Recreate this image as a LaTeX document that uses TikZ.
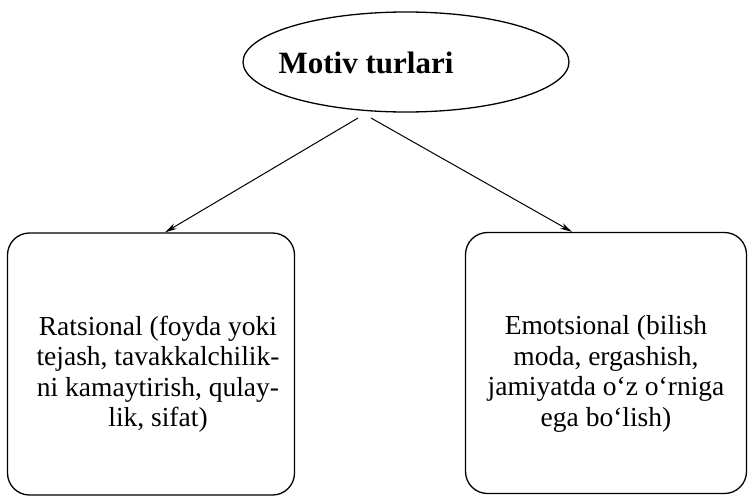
\documentclass[tikz,border=0pt]{standalone}
\usepackage{fontspec}
\setmainfont{Liberation Serif}
\usetikzlibrary{shapes.geometric,arrows.meta,calc}
\begin{document}
\begin{tikzpicture}[x=1pt,y=1pt,
  title/.style={draw,ellipse,line width=1.3pt,minimum width=326pt,minimum height=100pt,inner sep=0pt},
  titletext/.style={font=\fontsize{31}{34}\selectfont\bfseries,inner sep=0pt},
  box/.style={draw,rounded corners=22pt,line width=1.3pt,inner sep=0pt},
  boxtext/.style={align=center,inner sep=0pt,font=\fontsize{27.5}{30.5}\selectfont},
  arr/.style={line width=1pt,-{Stealth[length=12pt,width=6pt]}}]
\useasboundingbox (0,0) rectangle (748,-496);
\node[title] (m) at (406,-62) {};
\node[titletext] (mt) at (366,-63) {Motiv turlari};
\node[box,minimum width=287pt,minimum height=262pt] (r) at (151,-364) {};
\node[boxtext] (rt) at (158,-374) {Ratsional (foyda yoki\\tejash, tavakkalchilik-\\ni kamaytirish, qulay-\\lik, sifat)};
\node[box,minimum width=281pt,minimum height=261pt] (e) at (606,-363) {};
\node[boxtext] (et) at (606,-374) {Emotsional (bilish\\moda, ergashish,\\jamiyatda o‘z o‘rniga\\ega bo‘lish)};
\coordinate (s1) at (358,-118);
\coordinate (s2) at (371,-118);
\draw[arr] (s1) -- ($(r.north)+(14,0)$);
\draw[arr] (s2) -- ($(e.north)+(-34,0)$);
\end{tikzpicture}
\end{document}
